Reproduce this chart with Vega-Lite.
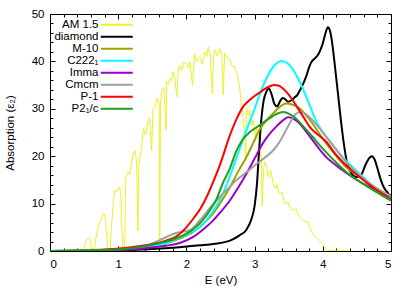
{
  "$schema": "https://vega.github.io/schema/vega-lite/v6.json",
  "width": 341,
  "height": 237,
  "autosize": {"type": "none"},
  "padding": {"left": 50, "top": 14, "right": 20, "bottom": 37},
  "config": {
    "view": {"stroke": "#000", "strokeWidth": 1},
    "font": "Liberation Sans",
    "axis": {"grid": false, "domain": false, "tickColor": "#000", "labelColor": "#000", "titleColor": "#000", "labelFontSize": 11.5, "titleFontSize": 11.5, "titleFontWeight": "normal", "labelFont": "Liberation Sans", "titleFont": "Liberation Sans"}
  },
  "data": {"values": [
    {"s":"AM 1.5","E":0.28,"v":0},{"s":"AM 1.5","E":0.48,"v":0},{"s":"AM 1.5","E":0.5,"v":0.5},{"s":"AM 1.5","E":0.53,"v":2.0},{"s":"AM 1.5","E":0.56,"v":2.7},{"s":"AM 1.5","E":0.58,"v":2.6},{"s":"AM 1.5","E":0.6,"v":1.5},{"s":"AM 1.5","E":0.62,"v":0},{"s":"AM 1.5","E":0.65,"v":0},{"s":"AM 1.5","E":0.67,"v":2.5},{"s":"AM 1.5","E":0.7,"v":4.5},{"s":"AM 1.5","E":0.73,"v":6.0},{"s":"AM 1.5","E":0.76,"v":7.2},{"s":"AM 1.5","E":0.79,"v":8.0},{"s":"AM 1.5","E":0.81,"v":7.0},{"s":"AM 1.5","E":0.83,"v":3.5},{"s":"AM 1.5","E":0.845,"v":0},{"s":"AM 1.5","E":0.88,"v":0},{"s":"AM 1.5","E":0.9,"v":5.0},{"s":"AM 1.5","E":0.93,"v":10.5},{"s":"AM 1.5","E":0.95,"v":12.8},{"s":"AM 1.5","E":0.98,"v":12.5},{"s":"AM 1.5","E":1.0,"v":13.3},{"s":"AM 1.5","E":1.02,"v":13.5},{"s":"AM 1.5","E":1.04,"v":11.5},{"s":"AM 1.5","E":1.05,"v":6},{"s":"AM 1.5","E":1.07,"v":0},{"s":"AM 1.5","E":1.095,"v":0},{"s":"AM 1.5","E":1.11,"v":15.6},{"s":"AM 1.5","E":1.15,"v":16.7},{"s":"AM 1.5","E":1.17,"v":16.2},{"s":"AM 1.5","E":1.2,"v":19.1},{"s":"AM 1.5","E":1.23,"v":20.9},{"s":"AM 1.5","E":1.25,"v":21.2},{"s":"AM 1.5","E":1.27,"v":18.5},{"s":"AM 1.5","E":1.29,"v":4.3},{"s":"AM 1.5","E":1.3,"v":18},{"s":"AM 1.5","E":1.34,"v":21.5},{"s":"AM 1.5","E":1.37,"v":25.8},{"s":"AM 1.5","E":1.4,"v":24.5},{"s":"AM 1.5","E":1.43,"v":27},{"s":"AM 1.5","E":1.46,"v":28},{"s":"AM 1.5","E":1.49,"v":21.2},{"s":"AM 1.5","E":1.51,"v":30},{"s":"AM 1.5","E":1.54,"v":30.5},{"s":"AM 1.5","E":1.57,"v":32.2},{"s":"AM 1.5","E":1.6,"v":31},{"s":"AM 1.5","E":1.61,"v":2.2},{"s":"AM 1.5","E":1.62,"v":31},{"s":"AM 1.5","E":1.64,"v":33.9},{"s":"AM 1.5","E":1.67,"v":34.5},{"s":"AM 1.5","E":1.7,"v":25.5},{"s":"AM 1.5","E":1.71,"v":35.7},{"s":"AM 1.5","E":1.74,"v":35.2},{"s":"AM 1.5","E":1.76,"v":36.4},{"s":"AM 1.5","E":1.78,"v":36},{"s":"AM 1.5","E":1.805,"v":37.8},{"s":"AM 1.5","E":1.83,"v":36.5},{"s":"AM 1.5","E":1.86,"v":32.5},{"s":"AM 1.5","E":1.88,"v":38},{"s":"AM 1.5","E":1.9,"v":39.2},{"s":"AM 1.5","E":1.93,"v":38},{"s":"AM 1.5","E":1.96,"v":39.8},{"s":"AM 1.5","E":2.0,"v":39.6},{"s":"AM 1.5","E":2.03,"v":38.5},{"s":"AM 1.5","E":2.05,"v":39.9},{"s":"AM 1.5","E":2.09,"v":35},{"s":"AM 1.5","E":2.12,"v":41.5},{"s":"AM 1.5","E":2.15,"v":40},{"s":"AM 1.5","E":2.2,"v":40.8},{"s":"AM 1.5","E":2.23,"v":39.5},{"s":"AM 1.5","E":2.27,"v":42},{"s":"AM 1.5","E":2.3,"v":41},{"s":"AM 1.5","E":2.32,"v":43.1},{"s":"AM 1.5","E":2.35,"v":41.5},{"s":"AM 1.5","E":2.38,"v":33.2},{"s":"AM 1.5","E":2.4,"v":41},{"s":"AM 1.5","E":2.42,"v":42.4},{"s":"AM 1.5","E":2.45,"v":41.2},{"s":"AM 1.5","E":2.49,"v":42.7},{"s":"AM 1.5","E":2.52,"v":41},{"s":"AM 1.5","E":2.54,"v":32.9},{"s":"AM 1.5","E":2.56,"v":41.7},{"s":"AM 1.5","E":2.6,"v":40.8},{"s":"AM 1.5","E":2.64,"v":40.3},{"s":"AM 1.5","E":2.67,"v":39},{"s":"AM 1.5","E":2.71,"v":38.9},{"s":"AM 1.5","E":2.74,"v":37.5},{"s":"AM 1.5","E":2.76,"v":36.4},{"s":"AM 1.5","E":2.78,"v":34.6},{"s":"AM 1.5","E":2.8,"v":31.8},{"s":"AM 1.5","E":2.83,"v":28.3},{"s":"AM 1.5","E":2.855,"v":24.1},{"s":"AM 1.5","E":2.87,"v":19},{"s":"AM 1.5","E":2.88,"v":30.1},{"s":"AM 1.5","E":2.91,"v":28.5},{"s":"AM 1.5","E":2.93,"v":29.7},{"s":"AM 1.5","E":2.96,"v":26.5},{"s":"AM 1.5","E":2.98,"v":27.6},{"s":"AM 1.5","E":3.01,"v":24},{"s":"AM 1.5","E":3.03,"v":26},{"s":"AM 1.5","E":3.05,"v":24.8},{"s":"AM 1.5","E":3.08,"v":22},{"s":"AM 1.5","E":3.1,"v":19.1},{"s":"AM 1.5","E":3.11,"v":9.5},{"s":"AM 1.5","E":3.13,"v":17},{"s":"AM 1.5","E":3.15,"v":18.8},{"s":"AM 1.5","E":3.17,"v":18.4},{"s":"AM 1.5","E":3.2,"v":15.6},{"s":"AM 1.5","E":3.24,"v":17},{"s":"AM 1.5","E":3.27,"v":14.2},{"s":"AM 1.5","E":3.31,"v":13.1},{"s":"AM 1.5","E":3.33,"v":14},{"s":"AM 1.5","E":3.36,"v":12.1},{"s":"AM 1.5","E":3.4,"v":12.5},{"s":"AM 1.5","E":3.44,"v":10},{"s":"AM 1.5","E":3.49,"v":10.3},{"s":"AM 1.5","E":3.52,"v":9},{"s":"AM 1.5","E":3.56,"v":8.6},{"s":"AM 1.5","E":3.61,"v":8.9},{"s":"AM 1.5","E":3.66,"v":7.1},{"s":"AM 1.5","E":3.71,"v":6.4},{"s":"AM 1.5","E":3.78,"v":6.1},{"s":"AM 1.5","E":3.83,"v":4.3},{"s":"AM 1.5","E":3.87,"v":3.3},{"s":"AM 1.5","E":3.95,"v":2.2},{"s":"AM 1.5","E":4.03,"v":0.8},{"s":"AM 1.5","E":4.07,"v":0.1},{"s":"AM 1.5","E":4.4,"v":0},

    {"s":"diamond","E":0,"v":0},{"s":"diamond","E":0.5,"v":0.05},{"s":"diamond","E":1.0,"v":0.15},{"s":"diamond","E":1.5,"v":0.4},{"s":"diamond","E":1.9,"v":0.8},{"s":"diamond","E":2.2,"v":1.2},{"s":"diamond","E":2.4,"v":1.5},{"s":"diamond","E":2.64,"v":2.2},{"s":"diamond","E":2.78,"v":3.3},{"s":"diamond","E":2.88,"v":4.5},{"s":"diamond","E":2.95,"v":6.6},{"s":"diamond","E":3.0,"v":9.5},{"s":"diamond","E":3.035,"v":14.2},{"s":"diamond","E":3.065,"v":21},{"s":"diamond","E":3.1,"v":28},{"s":"diamond","E":3.13,"v":31.5},{"s":"diamond","E":3.17,"v":33.5},{"s":"diamond","E":3.21,"v":34.3},{"s":"diamond","E":3.25,"v":33},{"s":"diamond","E":3.29,"v":31},{"s":"diamond","E":3.33,"v":30.5},{"s":"diamond","E":3.37,"v":31.5},{"s":"diamond","E":3.41,"v":32.3},{"s":"diamond","E":3.45,"v":32},{"s":"diamond","E":3.49,"v":31.5},{"s":"diamond","E":3.54,"v":31.8},{"s":"diamond","E":3.585,"v":32.4},{"s":"diamond","E":3.63,"v":33},{"s":"diamond","E":3.66,"v":33.8},{"s":"diamond","E":3.71,"v":35.2},{"s":"diamond","E":3.76,"v":37},{"s":"diamond","E":3.8,"v":38.8},{"s":"diamond","E":3.83,"v":39.8},{"s":"diamond","E":3.88,"v":40.6},{"s":"diamond","E":3.93,"v":41.4},{"s":"diamond","E":3.97,"v":42.6},{"s":"diamond","E":4.0,"v":43.8},{"s":"diamond","E":4.04,"v":46},{"s":"diamond","E":4.075,"v":47.2},{"s":"diamond","E":4.1,"v":46.7},{"s":"diamond","E":4.12,"v":45.5},{"s":"diamond","E":4.15,"v":42.5},{"s":"diamond","E":4.17,"v":40},{"s":"diamond","E":4.22,"v":33.5},{"s":"diamond","E":4.27,"v":27},{"s":"diamond","E":4.31,"v":22.5},{"s":"diamond","E":4.35,"v":19},{"s":"diamond","E":4.39,"v":17.2},{"s":"diamond","E":4.44,"v":16},{"s":"diamond","E":4.5,"v":15.6},{"s":"diamond","E":4.56,"v":16},{"s":"diamond","E":4.63,"v":18.3},{"s":"diamond","E":4.68,"v":19.6},{"s":"diamond","E":4.72,"v":20},{"s":"diamond","E":4.76,"v":19.3},{"s":"diamond","E":4.8,"v":17.5},{"s":"diamond","E":4.85,"v":15},{"s":"diamond","E":4.9,"v":13.3},{"s":"diamond","E":4.95,"v":12.3},{"s":"diamond","E":5.0,"v":11.3},

    {"s":"M-10","E":0,"v":0},{"s":"M-10","E":1.0,"v":0.3},{"s":"M-10","E":1.4,"v":0.8},{"s":"M-10","E":1.7,"v":1.6},{"s":"M-10","E":1.9,"v":2.6},{"s":"M-10","E":2.1,"v":4},{"s":"M-10","E":2.25,"v":5.8},{"s":"M-10","E":2.39,"v":7.9},{"s":"M-10","E":2.5,"v":10.2},{"s":"M-10","E":2.64,"v":13.5},{"s":"M-10","E":2.76,"v":16.8},{"s":"M-10","E":2.88,"v":19.8},{"s":"M-10","E":2.98,"v":22.8},{"s":"M-10","E":3.07,"v":25.5},{"s":"M-10","E":3.17,"v":27.5},{"s":"M-10","E":3.27,"v":29},{"s":"M-10","E":3.37,"v":30.4},{"s":"M-10","E":3.46,"v":31.1},{"s":"M-10","E":3.55,"v":30.9},{"s":"M-10","E":3.66,"v":30.1},{"s":"M-10","E":3.75,"v":28.7},{"s":"M-10","E":3.85,"v":26.9},{"s":"M-10","E":3.95,"v":24.7},{"s":"M-10","E":4.05,"v":22.7},{"s":"M-10","E":4.2,"v":20},{"s":"M-10","E":4.34,"v":17.7},{"s":"M-10","E":4.54,"v":15.6},{"s":"M-10","E":4.73,"v":13.5},{"s":"M-10","E":5.0,"v":10.9},

    {"s":"C222₁","E":0,"v":0},{"s":"C222₁","E":0.5,"v":0.05},{"s":"C222₁","E":1.0,"v":0.3},{"s":"C222₁","E":1.4,"v":0.8},{"s":"C222₁","E":1.7,"v":1.6},{"s":"C222₁","E":1.9,"v":2.8},{"s":"C222₁","E":2.05,"v":3.8},{"s":"C222₁","E":2.2,"v":5.0},{"s":"C222₁","E":2.39,"v":8.4},{"s":"C222₁","E":2.5,"v":11},{"s":"C222₁","E":2.59,"v":14},{"s":"C222₁","E":2.73,"v":19.5},{"s":"C222₁","E":2.88,"v":25.5},{"s":"C222₁","E":3.0,"v":30},{"s":"C222₁","E":3.1,"v":34},{"s":"C222₁","E":3.2,"v":37.2},{"s":"C222₁","E":3.3,"v":39.3},{"s":"C222₁","E":3.4,"v":40.1},{"s":"C222₁","E":3.5,"v":39.4},{"s":"C222₁","E":3.6,"v":37.4},{"s":"C222₁","E":3.7,"v":34.5},{"s":"C222₁","E":3.8,"v":31},{"s":"C222₁","E":3.9,"v":27.5},{"s":"C222₁","E":4.0,"v":25},{"s":"C222₁","E":4.1,"v":23.2},{"s":"C222₁","E":4.2,"v":21.3},{"s":"C222₁","E":4.34,"v":19.1},{"s":"C222₁","E":4.54,"v":16.3},{"s":"C222₁","E":4.73,"v":13.8},{"s":"C222₁","E":5.0,"v":11.2},

    {"s":"Imma","E":0,"v":0},{"s":"Imma","E":1.0,"v":0.2},{"s":"Imma","E":1.4,"v":0.6},{"s":"Imma","E":1.7,"v":1.1},{"s":"Imma","E":1.9,"v":1.7},{"s":"Imma","E":2.1,"v":3.0},{"s":"Imma","E":2.25,"v":4.6},{"s":"Imma","E":2.39,"v":6.4},{"s":"Imma","E":2.5,"v":8.2},{"s":"Imma","E":2.64,"v":10.7},{"s":"Imma","E":2.76,"v":13.4},{"s":"Imma","E":2.88,"v":16.3},{"s":"Imma","E":3.0,"v":19.5},{"s":"Imma","E":3.12,"v":22.7},{"s":"Imma","E":3.22,"v":24.7},{"s":"Imma","E":3.32,"v":26.3},{"s":"Imma","E":3.42,"v":27.6},{"s":"Imma","E":3.49,"v":28.2},{"s":"Imma","E":3.57,"v":27.9},{"s":"Imma","E":3.66,"v":26.9},{"s":"Imma","E":3.75,"v":25.3},{"s":"Imma","E":3.85,"v":23.4},{"s":"Imma","E":3.95,"v":21.5},{"s":"Imma","E":4.05,"v":19.8},{"s":"Imma","E":4.2,"v":18},{"s":"Imma","E":4.34,"v":16.5},{"s":"Imma","E":4.59,"v":14.2},{"s":"Imma","E":4.83,"v":12.6},{"s":"Imma","E":5.0,"v":11.5},

    {"s":"Cmcm","E":0,"v":0},{"s":"Cmcm","E":1.0,"v":0.4},{"s":"Cmcm","E":1.3,"v":1.0},{"s":"Cmcm","E":1.5,"v":1.6},{"s":"Cmcm","E":1.7,"v":2.9},{"s":"Cmcm","E":1.85,"v":3.8},{"s":"Cmcm","E":1.95,"v":4.1},{"s":"Cmcm","E":2.05,"v":4.4},{"s":"Cmcm","E":2.2,"v":6.5},{"s":"Cmcm","E":2.35,"v":9.2},{"s":"Cmcm","E":2.49,"v":11.4},{"s":"Cmcm","E":2.6,"v":13},{"s":"Cmcm","E":2.73,"v":14.9},{"s":"Cmcm","E":2.88,"v":16.6},{"s":"Cmcm","E":3.03,"v":18.4},{"s":"Cmcm","E":3.15,"v":19.7},{"s":"Cmcm","E":3.27,"v":21.2},{"s":"Cmcm","E":3.37,"v":23.1},{"s":"Cmcm","E":3.46,"v":25.5},{"s":"Cmcm","E":3.54,"v":27.6},{"s":"Cmcm","E":3.61,"v":29},{"s":"Cmcm","E":3.68,"v":29.3},{"s":"Cmcm","E":3.75,"v":28.9},{"s":"Cmcm","E":3.85,"v":27.6},{"s":"Cmcm","E":3.95,"v":25.9},{"s":"Cmcm","E":4.05,"v":24.1},{"s":"Cmcm","E":4.2,"v":21.4},{"s":"Cmcm","E":4.34,"v":18.8},{"s":"Cmcm","E":4.54,"v":16},{"s":"Cmcm","E":4.73,"v":13.8},{"s":"Cmcm","E":5.0,"v":11.6},

    {"s":"P-1","E":0,"v":0},{"s":"P-1","E":0.5,"v":0.1},{"s":"P-1","E":0.98,"v":0.5},{"s":"P-1","E":1.2,"v":0.8},{"s":"P-1","E":1.46,"v":1.3},{"s":"P-1","E":1.7,"v":2.2},{"s":"P-1","E":1.855,"v":3.1},{"s":"P-1","E":2.0,"v":5},{"s":"P-1","E":2.1,"v":6.8},{"s":"P-1","E":2.2,"v":8.8},{"s":"P-1","E":2.3,"v":11.5},{"s":"P-1","E":2.39,"v":14.5},{"s":"P-1","E":2.5,"v":18.5},{"s":"P-1","E":2.64,"v":24.5},{"s":"P-1","E":2.75,"v":28.3},{"s":"P-1","E":2.83,"v":30.4},{"s":"P-1","E":2.9,"v":31.5},{"s":"P-1","E":2.98,"v":32.5},{"s":"P-1","E":3.05,"v":33.2},{"s":"P-1","E":3.12,"v":33.9},{"s":"P-1","E":3.2,"v":34.6},{"s":"P-1","E":3.29,"v":35},{"s":"P-1","E":3.35,"v":34.9},{"s":"P-1","E":3.415,"v":34.3},{"s":"P-1","E":3.5,"v":33},{"s":"P-1","E":3.56,"v":31.8},{"s":"P-1","E":3.63,"v":30.2},{"s":"P-1","E":3.71,"v":28.4},{"s":"P-1","E":3.83,"v":25.8},{"s":"P-1","E":3.95,"v":24.3},{"s":"P-1","E":4.04,"v":23.2},{"s":"P-1","E":4.2,"v":20.2},{"s":"P-1","E":4.34,"v":18.1},{"s":"P-1","E":4.54,"v":15.6},{"s":"P-1","E":4.73,"v":13.5},{"s":"P-1","E":5.0,"v":10.9},

    {"s":"P2₁/c","E":0,"v":0},{"s":"P2₁/c","E":1.0,"v":0.3},{"s":"P2₁/c","E":1.46,"v":1.2},{"s":"P2₁/c","E":1.7,"v":2.0},{"s":"P2₁/c","E":1.855,"v":2.7},{"s":"P2₁/c","E":2.05,"v":4.1},{"s":"P2₁/c","E":2.15,"v":5.2},{"s":"P2₁/c","E":2.245,"v":6.6},{"s":"P2₁/c","E":2.35,"v":8.7},{"s":"P2₁/c","E":2.44,"v":10.9},{"s":"P2₁/c","E":2.54,"v":14.5},{"s":"P2₁/c","E":2.64,"v":17.5},{"s":"P2₁/c","E":2.73,"v":21},{"s":"P2₁/c","E":2.83,"v":23.6},{"s":"P2₁/c","E":2.93,"v":25.1},{"s":"P2₁/c","E":3.02,"v":26.0},{"s":"P2₁/c","E":3.12,"v":27.0},{"s":"P2₁/c","E":3.22,"v":28.0},{"s":"P2₁/c","E":3.32,"v":28.9},{"s":"P2₁/c","E":3.42,"v":29.3},{"s":"P2₁/c","E":3.52,"v":28.8},{"s":"P2₁/c","E":3.61,"v":27.9},{"s":"P2₁/c","E":3.72,"v":26.2},{"s":"P2₁/c","E":3.85,"v":24.1},{"s":"P2₁/c","E":3.95,"v":22.4},{"s":"P2₁/c","E":4.05,"v":20.8},{"s":"P2₁/c","E":4.2,"v":18.6},{"s":"P2₁/c","E":4.34,"v":16.7},{"s":"P2₁/c","E":4.59,"v":14.2},{"s":"P2₁/c","E":4.8,"v":12.3},{"s":"P2₁/c","E":5.0,"v":10.6}
  ]},
  "encoding": {
    "color": {
      "field": "s", "type": "nominal",
      "scale": {
        "domain": ["AM 1.5", "diamond", "M-10", "C222₁", "Imma", "Cmcm", "P-1", "P2₁/c"],
        "range": ["#f0f020", "#000000", "#a0a000", "#00ffff", "#9900cc", "#a0a0a0", "#ff0000", "#1ea01e"]
      },
      "legend": {
        "orient": "none", "legendX": 61, "legendY": 5, "title": null, "padding": 0,
        "symbolType": "M-40,0L-40,0M-8,0H8", "symbolSize": 16, "symbolStrokeWidth": 2,
        "labelAlign": "right", "labelOffset": -24, "labelFontSize": 11.5, "labelFont": "Liberation Sans", "labelColor": "#000",
        "rowPadding": -2
      }
    }
  },
  "layer": [
    {
      "transform": [{"filter": "datum.s === 'AM 1.5'"}],
      "mark": {"type": "line", "strokeWidth": 1, "clip": true},
      "encoding": {
        "x": {"field": "E", "type": "quantitative", "scale": {"domain": [0, 5], "nice": false},
              "axis": {"orient": "bottom", "values": [0, 1, 2, 3, 4, 5], "tickSize": -5, "labelPadding": 12, "title": "E (eV)", "titlePadding": 5}},
        "y": {"field": "v", "type": "quantitative", "scale": {"domain": [0, 50], "nice": false},
              "axis": {"orient": "left", "values": [0, 10, 20, 30, 40, 50], "tickSize": -5, "labelPadding": 11, "title": "Absorption (ε₂)", "titlePadding": 16}}
      }
    },
    {
      "transform": [{"filter": "datum.s === 'diamond'"}],
      "mark": {"type": "line", "strokeWidth": 2, "interpolate": "monotone", "clip": true},
      "encoding": {
        "x": {"field": "E", "type": "quantitative",
              "axis": {"orient": "bottom", "values": [0.2,0.4,0.6,0.8,1.2,1.4,1.6,1.8,2.2,2.4,2.6,2.8,3.2,3.4,3.6,3.8,4.2,4.4,4.6,4.8], "tickSize": -3, "labels": false, "title": null}},
        "y": {"field": "v", "type": "quantitative",
              "axis": {"orient": "left", "values": [2,4,6,8,12,14,16,18,22,24,26,28,32,34,36,38,42,44,46,48], "tickSize": -3, "labels": false, "title": null}}
      }
    },
    {
      "transform": [{"filter": "datum.s === 'M-10' || datum.s === 'C222₁' || datum.s === 'Imma'"}],
      "mark": {"type": "line", "strokeWidth": 2, "interpolate": "monotone", "clip": true},
      "encoding": {
        "x": {"field": "E", "type": "quantitative",
              "axis": {"orient": "top", "values": [0, 1, 2, 3, 4, 5], "tickSize": -5, "labels": false, "title": null}},
        "y": {"field": "v", "type": "quantitative",
              "axis": {"orient": "right", "values": [0, 10, 20, 30, 40, 50], "tickSize": -5, "labels": false, "title": null}}
      }
    },
    {
      "transform": [{"filter": "datum.s === 'Cmcm' || datum.s === 'P-1' || datum.s === 'P2₁/c'"}],
      "mark": {"type": "line", "strokeWidth": 2, "interpolate": "monotone", "clip": true},
      "encoding": {
        "x": {"field": "E", "type": "quantitative",
              "axis": {"orient": "top", "values": [0.2,0.4,0.6,0.8,1.2,1.4,1.6,1.8,2.2,2.4,2.6,2.8,3.2,3.4,3.6,3.8,4.2,4.4,4.6,4.8], "tickSize": -3, "labels": false, "title": null}},
        "y": {"field": "v", "type": "quantitative",
              "axis": {"orient": "right", "values": [2,4,6,8,12,14,16,18,22,24,26,28,32,34,36,38,42,44,46,48], "tickSize": -3, "labels": false, "title": null}}
      }
    }
  ],
  "resolve": {"axis": {"x": "independent", "y": "independent"}}
}
